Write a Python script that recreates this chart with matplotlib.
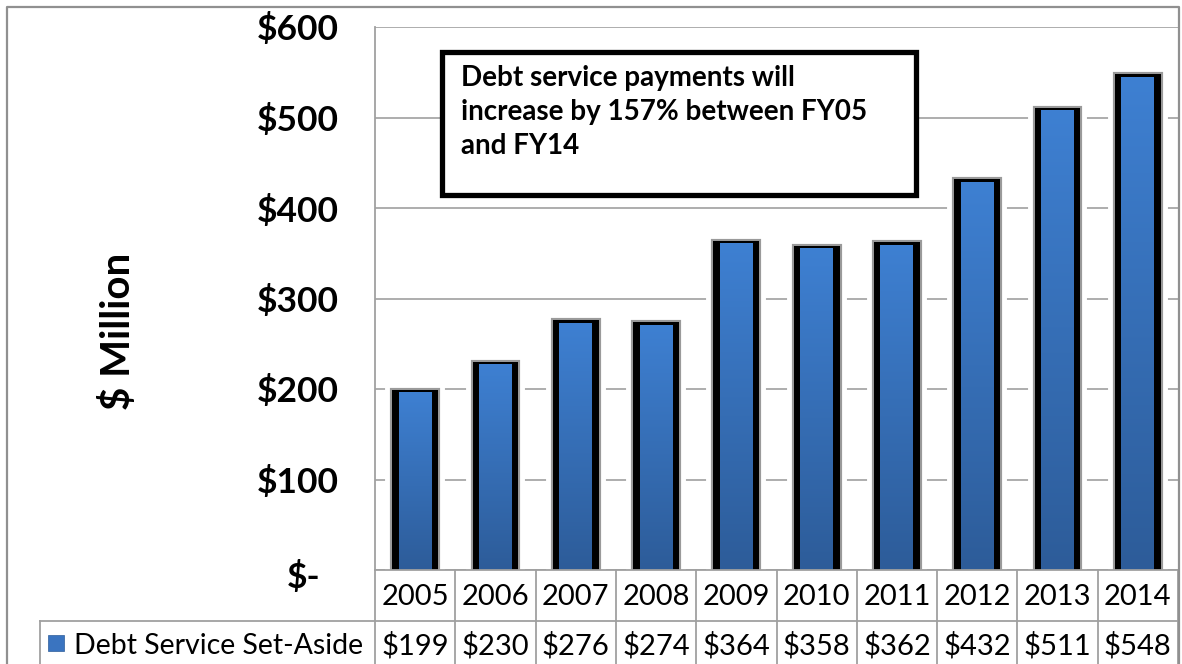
import numpy as np
import matplotlib
matplotlib.use("Agg")
import matplotlib.pyplot as plt
from matplotlib import patheffects as pe
from matplotlib.colors import LinearSegmentedColormap
from matplotlib.transforms import blended_transform_factory, ScaledTranslation
from matplotlib.patches import Rectangle
from matplotlib.lines import Line2D

years = ["2005", "2006", "2007", "2008", "2009", "2010", "2011", "2012", "2013", "2014"]
values = [199, 230, 276, 274, 364, 358, 362, 432, 511, 548]
value_labels = ["$199", "$230", "$276", "$274", "$364", "$358", "$362", "$432", "$511", "$548"]
yticks = [0, 100, 200, 300, 400, 500, 600]
ytick_labels = ["$-", "$100", "$200", "$300", "$400", "$500", "$600"]
series_name = "Debt Service Set-Aside"
y_title = "$ Million"
note = "Debt service payments will\nincrease by 157% between FY05\nand FY14"

plt.rcParams['font.family'] = ['Lato', 'DejaVu Sans']

W, H = 1182, 664
fig = plt.figure(figsize=(W / 100, H / 100), dpi=100)
def fx(px): return px / W
def fy(py): return 1 - py / H

GRAY = '#a0a0a0'
ax = fig.add_axes([fx(375), fy(570), fx(1178) - fx(375), fy(27) - fy(570)])
x = np.arange(len(years))

ax.set_yticks(yticks)
ax.set_yticklabels(ytick_labels, fontsize=25.5, fontweight='bold')
ax.tick_params(axis='y', length=0, pad=26)
# accounting-style zero label sits left of the others
zlab = ax.get_yticklabels()[0]
zlab.set_transform(zlab.get_transform() + ScaledTranslation(-0.18, -0.04, fig.dpi_scale_trans))
ax.set_xticks([])
ax.yaxis.grid(True, color=GRAY, linewidth=1.2)
ax.set_axisbelow(True)
for s in ['top', 'right']:
    ax.spines[s].set_visible(False)
for s in ['left', 'bottom']:
    ax.spines[s].set_color(GRAY)
    ax.spines[s].set_linewidth(1.3)
    ax.spines[s].set_zorder(5)

# outer bars (black sides) with white gap around
outer_w = 0.57
ax.bar(x, values, width=outer_w, color='black', zorder=2,
       path_effects=[pe.Stroke(linewidth=10, foreground='white'),
                     pe.Stroke(linewidth=3, foreground='#9a9a9a'),
                     pe.Normal()])

# inner gradient
cmap = LinearSegmentedColormap.from_list('b', ['#2d5c99', '#3e80d2'])
grad = np.linspace(0, 1, 256).reshape(-1, 1)
inner_w = 0.41
top_edge = 3.3
for xi, v in zip(x, values):
    ax.imshow(grad, cmap=cmap, origin='lower', aspect='auto', zorder=3,
              extent=(xi - inner_w / 2, xi + inner_w / 2, 0, v - top_edge),
              interpolation='bilinear')
ax.set_xlim(-0.5, len(years) - 0.5)
ax.set_ylim(0, 600)

fig.text(fx(118), fy(331), y_title, rotation=90, fontsize=29, fontweight='bold',
         ha='center', va='center')

# annotation box
fig.patches.append(Rectangle((fx(442), fy(195)), fx(916) - fx(442), fy(52) - fy(195),
                             transform=fig.transFigure, facecolor='white',
                             edgecolor='black', linewidth=3.8, zorder=10))
fig.text(fx(461), fy(65), note, fontsize=20, fontweight='bold', ha='left', va='top',
         linespacing=1.38, zorder=11)

# data table
bt = blended_transform_factory(ax.transData, fig.transFigure)
for i, (yr, lab) in enumerate(zip(years, value_labels)):
    fig.text(i, fy(597), yr, transform=bt, ha='center', va='center', fontsize=21)
    fig.text(i, fy(646), lab, transform=bt, ha='center', va='center', fontsize=21)
for k in range(len(years) + 1):
    fig.add_artist(Line2D([k - 0.5, k - 0.5], [fy(570), fy(664)], transform=bt,
                          color=GRAY, linewidth=1.3))
fig.add_artist(Line2D([fx(40), fx(1178)], [fy(621), fy(621)], transform=fig.transFigure,
                      color=GRAY, linewidth=1.3))
fig.add_artist(Line2D([fx(40), fx(40)], [fy(621), fy(664)], transform=fig.transFigure,
                      color=GRAY, linewidth=1.3))
fig.patches.append(Rectangle((fx(48), fy(651)), fx(16), 16 / H, transform=fig.transFigure,
                             facecolor='#3a74c0', edgecolor='#2d5c99', linewidth=0.5))
fig.text(fx(74), fy(646), series_name, ha='left', va='center', fontsize=20.5)

# outer chart border
fig.add_artist(Line2D([fx(7), fx(7), fx(1179), fx(1179)], [fy(670), fy(7), fy(7), fy(670)],
                      transform=fig.transFigure, color='#909090', linewidth=1.6))

fig.savefig('out.png', dpi=100)
